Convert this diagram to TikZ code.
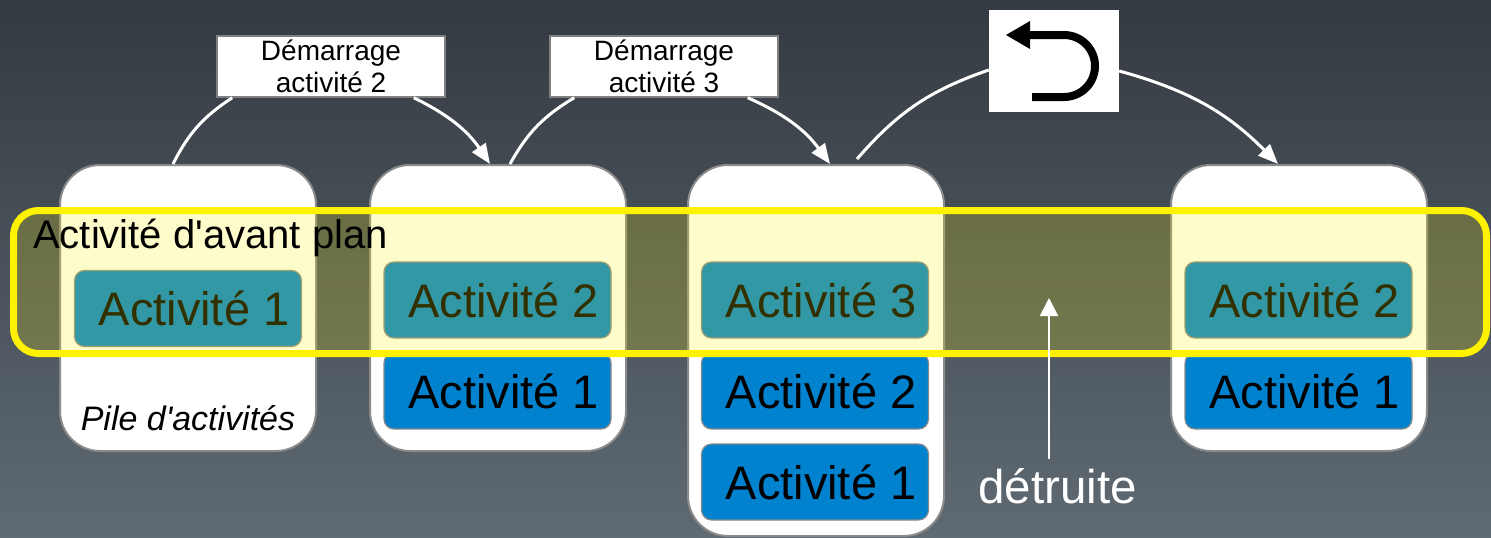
\documentclass[tikz,border=0pt]{standalone}
\usepackage{fontspec}
\setmainfont{Liberation Sans}[Ligatures=TeXOff]
\usetikzlibrary{arrows.meta}
\definecolor{bgtop}{HTML}{343A42}
\definecolor{bgbot}{HTML}{5F6A73}
\definecolor{actblue}{HTML}{0082CF}
\definecolor{edgegray}{HTML}{8A8A8A}
\begin{document}
\begin{tikzpicture}[x=1pt,y=-1pt,
  stackbox/.style={draw=edgegray, line width=2pt, fill=white, rounded corners=40pt, minimum width=256pt, inner sep=0pt},
  actbox/.style={draw=edgegray, line width=1.2pt, fill=actblue, rounded corners=10pt, minimum width=227pt, minimum height=76pt, inner sep=0pt, font=\fontsize{47}{50}\selectfont},
  labelbox/.style={draw=gray, line width=1.5pt, fill=white, minimum width=228pt, minimum height=61pt, inner sep=0pt, align=center, font=\fontsize{28}{32}\selectfont},
  flowline/.style={draw=white, line width=3pt},
  flow/.style={flowline, -{Triangle[length=20pt,width=16pt]}},
  band/.style={draw=yellow, line width=7pt, fill=yellow, fill opacity=0.2, rounded corners=25pt, minimum width=1473pt, minimum height=143pt, inner sep=0pt}
]
\useasboundingbox (0,0) rectangle (1491,538);
\shade[top color=bgtop, bottom color=bgbot] (0,0) rectangle (1491,538);

% stacks
\node[stackbox, minimum height=286pt] (s1) at (188,308) {};
\node[stackbox, minimum height=286pt] (s2) at (498,308) {};
\node[stackbox, minimum height=371pt] (s3) at (816,350.5) {};
\node[stackbox, minimum height=286pt] (s4) at (1299,308) {};

% activities
\node[actbox] (a1a) at (188,308.5) {\hspace{12pt}Activité 1};
\node[actbox] (a2b) at (497.5,300) {\hspace{12pt}Activité 2};
\node[actbox] (a2a) at (497.5,391) {\hspace{12pt}Activité 1};
\node[actbox] (a3c) at (815,300) {\hspace{12pt}Activité 3};
\node[actbox] (a3b) at (815,391) {\hspace{12pt}Activité 2};
\node[actbox] (a3a) at (815,482) {\hspace{12pt}Activité 1};
\node[actbox] (a4b) at (1298.5,300) {\hspace{12pt}Activité 2};
\node[actbox] (a4a) at (1298.5,391) {\hspace{12pt}Activité 1};

% foreground band
\node[band] (fg) at (750,282) {};
\node[anchor=base west, inner sep=0pt, font=\fontsize{40}{48}\selectfont] (fgl) at (33,248) {Activité d'avant plan};

\node[anchor=base, inner sep=0pt, font=\fontsize{34}{38}\selectfont\itshape] (pile) at (188,430) {Pile d'activités};

% labels
\node[labelbox] (l1) at (331,66.5) {Démarrage\\activité 2};
\node[labelbox] (l2) at (664,66.5) {Démarrage\\activité 3};
\node[fill=white, minimum width=130pt, minimum height=102pt, inner sep=0pt] (back) at (1054,61) {};
\draw[black, line width=8pt] (1028,35) -- (1064,35) arc[start angle=-90, end angle=90, radius=31] -- (1032,97);
\fill[black] (1006,35) -- (1030,21) -- (1030,49) -- cycle;

% arrows
\draw[flowline] ([xshift=-15pt]s1.north) to[bend left=15] ([xshift=16pt]l1.south west);
\draw[flow] ([xshift=-32pt]l1.south east) to[bend left=15] ([xshift=-8pt]s2.north);
\draw[flowline] ([xshift=12pt]s2.north) to[bend left=15] ([xshift=25pt]l2.south west);
\draw[flow] ([xshift=-31pt]l2.south east) to[bend left=15] ([xshift=14pt]s3.north);
\draw[flowline] ([xshift=41pt,yshift=5pt]s3.north) to[bend left=15] ([yshift=-9pt]back.west);
\draw[flow] ([yshift=-10pt]back.east) to[bend left=15] ([xshift=-21pt]s4.north);

% destroyed
\node[anchor=base, inner sep=0pt, text=white, font=\fontsize{47.5}{50}\selectfont] (det) at (1057.5,503) {détruite};
\coordinate (detto) at (1049,298);
\draw[white, line width=2pt, -{Triangle[length=18pt,width=18pt]}] ([yshift=9pt]det.north -| detto) -- (detto);
\end{tikzpicture}
\end{document}
